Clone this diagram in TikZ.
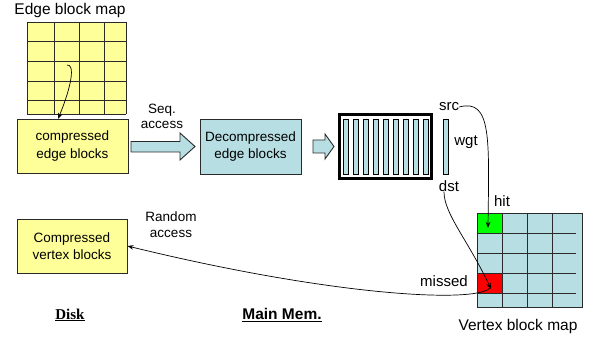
\documentclass[tikz,border=0pt]{standalone}
\usepackage{fontspec}
\setmainfont{Liberation Sans}
\newfontfamily\seriffam{Liberation Serif}
\usetikzlibrary{arrows.meta}
\definecolor{ylw}{HTML}{FFFF99}
\definecolor{lblue}{HTML}{B7DEE3}
\definecolor{bord}{HTML}{2A2A2A}
\begin{document}
\begin{tikzpicture}[x=1pt,y=-1pt,
  box/.style={draw=bord, line width=0.9pt, inner sep=0pt, align=center,
    font=\fontsize{13.5}{17.5}\selectfont},
  ybox/.style={box, fill=ylw},
  bbox/.style={box, fill=lblue},
  lbl/.style={inner sep=0pt, font=\fontsize{15}{18}\selectfont},
  biglbl/.style={inner sep=0pt, font=\fontsize{15.5}{18}\selectfont},
  sublbl/.style={inner sep=0pt, align=center, font=\fontsize{13.5}{15.5}\selectfont},
  blockarrow/.style={draw=bord, line width=0.9pt, fill=lblue},
  gridline/.style={draw=bord, line width=0.9pt},
  bar/.style={draw=black, line width=0.8pt, fill=lblue},
  conn/.style={draw=black, line width=0.7pt, -{Stealth[length=6pt,width=4.5pt]}}
]
\useasboundingbox (0,0) rectangle (592,339);

% Edge block map grid
\fill[ylw] (27,22) rectangle (126,114);
\foreach \y in {22,41,61,81,100,114} \draw[gridline] (27,\y) -- (126,\y);
\foreach \x in {27,54,79,104,126} \draw[gridline] (\x,22) -- (\x,114);
\node[biglbl] (ebm) at (70,10) {Edge block map};

% boxes
\node[ybox, minimum width=111pt, minimum height=54pt] (ceb) at (72.5,146) {compressed\\edge blocks};
\node[bbox, minimum width=101pt, minimum height=55pt] (deb) at (250.5,146.5) {Decompressed\\edge blocks};
\node[ybox, minimum width=110pt, minimum height=54pt] (cvb) at (72,246) {Compressed\\vertex blocks};

% hook arrow inside grid
\coordinate (hookstart) at (67,65);
\coordinate (hookend) at (58,119);
\draw[conn] (hookstart) .. controls (75,64) and (72,85) .. (hookend);

% Seq access block arrow
\draw[blockarrow] (131,141.5) -- (180,141.5) -- (180,133) -- (195,146.5) -- (180,160) -- (180,152) -- (131,152) -- cycle;
\node[sublbl] (seq) at (162,116.5) {Seq.\\access};

% small block arrow
\draw[blockarrow] (313,140) -- (325,140) -- (325,134) -- (334,146.5) -- (325,159) -- (325,153) -- (313,153) -- cycle;

% edge buffer
\draw[line width=3pt, black] (339.5,114.5) rectangle (431.5,178.5);
\foreach \i in {0,...,8} \draw[bar] ({343+10*\i},119) rectangle ({348+10*\i},174);
\draw[bar] (443,119) rectangle (448,174);

\node[lbl] (src) at (449,107) {src};
\node[lbl] (wgt) at (466,142) {wgt};
\node[lbl] (dst) at (449,186) {dst};
\node[lbl] (hit) at (502,201) {hit};
\node[lbl] (missed) at (444,281) {missed};

% Vertex block map
\fill[lblue] (477,213) rectangle (582,307);
\fill[green] (477,213) rectangle (502,233);
\fill[red] (477,273) rectangle (502,293);
\foreach \y in {233,253,273,293} \draw[gridline] (477,\y) -- (576,\y);
\foreach \x in {502,527,552} \draw[gridline] (\x,213) -- (\x,307);
\draw[gridline] (477,213) rectangle (582,307);
\node[biglbl] (vbm) at (518,326) {Vertex block map};

\coordinate (hitcell) at (488,228);
\coordinate (misscell) at (491,289);
\coordinate (missstart) at (491,286);

% connectors
\draw[conn] (src.east) .. controls (492,98) and (489,140) .. (hitcell);
\draw[conn] ([xshift=-5pt]dst.south) .. controls (444,214) and (468,240) .. (misscell);
\draw[conn] (missstart) .. controls (487,304) and (340,298) .. (cvb.east);
\node[sublbl] (rand) at (171,224.5) {Random\\access};

% footers
\node[inner sep=0pt, font=\fontsize{15}{18}\selectfont\seriffam\bfseries] (disk) at (70,315) {\underline{Disk}};
\node[inner sep=0pt, font=\fontsize{15.5}{18}\selectfont\bfseries] (mm) at (282,315) {\underline{Main Mem.}};
\end{tikzpicture}
\end{document}
